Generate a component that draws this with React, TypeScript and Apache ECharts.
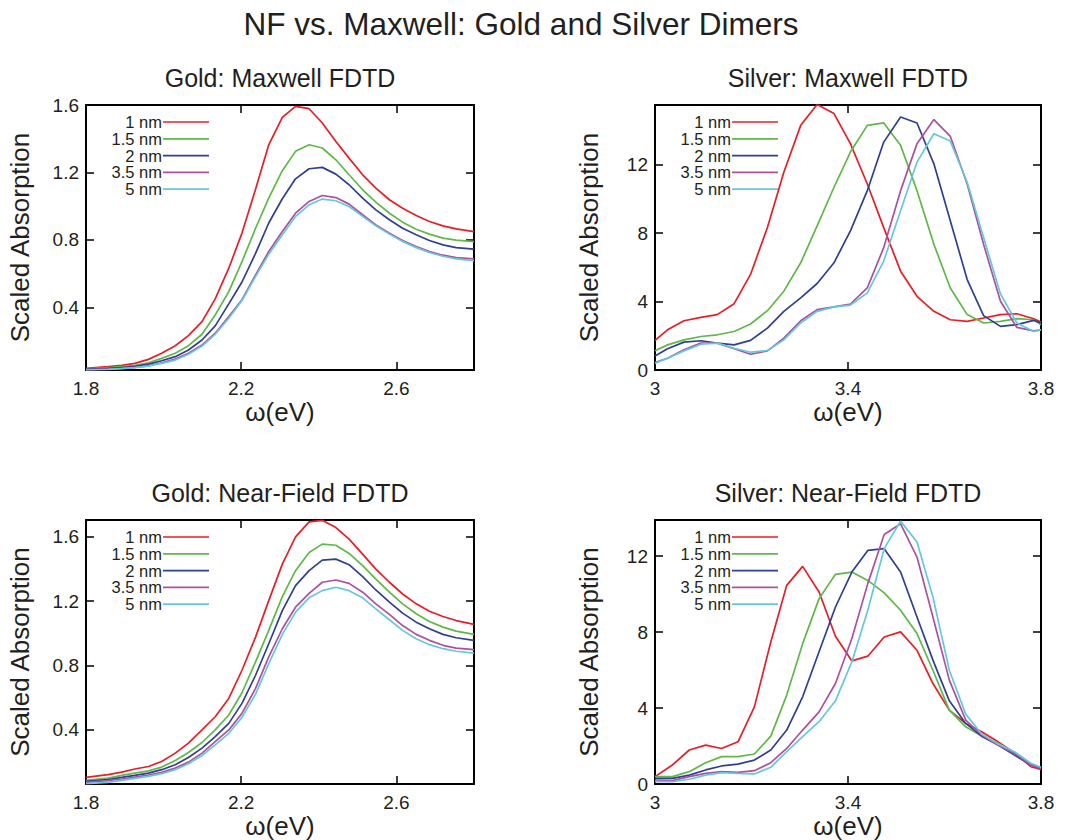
import React, { useEffect, useRef } from "react";
import * as echarts from "echarts";

const SIZES = ["1 nm", "1.5 nm", "2 nm", "3.5 nm", "5 nm"];
const COLORS = ["#ec1c24", "#5eb947", "#2e3f94", "#b04ea0", "#62c8e0"];

const goldXTicks = [1.8, 2.2, 2.6];
const goldMaxYTicks = [0.4, 0.8, 1.2, 1.6];
const goldNFYTicks = [0.4, 0.8, 1.2, 1.6];
const silverXTicks = [3, 3.4, 3.8];
const silverYTicks = [0, 4, 8, 12];

const goldX = [1.8, 1.857, 1.892, 1.926, 1.961, 1.995, 2.03, 2.064, 2.099, 2.133, 2.168, 2.202, 2.237, 2.271, 2.306, 2.34, 2.375, 2.409, 2.444, 2.478, 2.513, 2.547, 2.582, 2.616, 2.651, 2.685, 2.72, 2.754, 2.8];

const goldMax1 = [0.038, 0.048, 0.055, 0.067, 0.091, 0.127, 0.172, 0.232, 0.315, 0.45, 0.632, 0.84, 1.1, 1.364, 1.527, 1.592, 1.578, 1.493, 1.384, 1.285, 1.186, 1.107, 1.038, 0.988, 0.945, 0.909, 0.883, 0.865, 0.849];
const goldMax15 = [0.034, 0.042, 0.048, 0.055, 0.071, 0.097, 0.127, 0.172, 0.24, 0.354, 0.493, 0.671, 0.869, 1.048, 1.21, 1.325, 1.364, 1.345, 1.275, 1.186, 1.097, 1.024, 0.958, 0.905, 0.863, 0.834, 0.81, 0.798, 0.79];
const goldMax2 = [0.032, 0.038, 0.042, 0.05, 0.063, 0.083, 0.107, 0.147, 0.206, 0.29, 0.42, 0.55, 0.72, 0.9, 1.044, 1.162, 1.222, 1.23, 1.19, 1.127, 1.048, 0.978, 0.919, 0.869, 0.83, 0.796, 0.77, 0.754, 0.745];
const goldMax35 = [0.03, 0.034, 0.038, 0.044, 0.053, 0.071, 0.093, 0.127, 0.176, 0.246, 0.345, 0.445, 0.592, 0.731, 0.85, 0.958, 1.028, 1.063, 1.051, 1.012, 0.949, 0.889, 0.84, 0.796, 0.76, 0.731, 0.709, 0.695, 0.687];
const goldMax5 = [0.028, 0.032, 0.036, 0.042, 0.051, 0.067, 0.087, 0.121, 0.17, 0.24, 0.335, 0.44, 0.582, 0.715, 0.83, 0.939, 1.008, 1.042, 1.032, 0.998, 0.939, 0.883, 0.834, 0.79, 0.754, 0.725, 0.703, 0.687, 0.677];

const goldNF1 = [0.105, 0.122, 0.138, 0.157, 0.173, 0.204, 0.256, 0.318, 0.4, 0.482, 0.596, 0.771, 0.977, 1.204, 1.431, 1.6, 1.693, 1.703, 1.658, 1.586, 1.493, 1.4, 1.318, 1.245, 1.184, 1.138, 1.105, 1.08, 1.056];
const goldNF15 = [0.087, 0.101, 0.118, 0.132, 0.146, 0.169, 0.21, 0.26, 0.322, 0.4, 0.493, 0.631, 0.823, 1.019, 1.229, 1.39, 1.503, 1.555, 1.548, 1.497, 1.421, 1.338, 1.256, 1.184, 1.122, 1.074, 1.039, 1.014, 0.994];
const goldNF2 = [0.08, 0.092, 0.105, 0.118, 0.132, 0.153, 0.184, 0.229, 0.287, 0.359, 0.441, 0.565, 0.74, 0.936, 1.142, 1.297, 1.39, 1.456, 1.462, 1.427, 1.353, 1.27, 1.194, 1.126, 1.07, 1.029, 0.994, 0.973, 0.957];
const goldNF35 = [0.074, 0.085, 0.095, 0.107, 0.12, 0.136, 0.163, 0.2, 0.256, 0.328, 0.4, 0.503, 0.658, 0.854, 1.029, 1.163, 1.249, 1.318, 1.332, 1.311, 1.256, 1.184, 1.118, 1.049, 0.994, 0.957, 0.926, 0.909, 0.899];
const goldNF5 = [0.066, 0.074, 0.087, 0.099, 0.111, 0.128, 0.153, 0.19, 0.241, 0.307, 0.379, 0.478, 0.623, 0.812, 0.994, 1.132, 1.221, 1.266, 1.287, 1.266, 1.221, 1.153, 1.085, 1.019, 0.967, 0.93, 0.905, 0.889, 0.878];

const silverMaxX = [3.0, 3.026, 3.06, 3.095, 3.129, 3.164, 3.198, 3.233, 3.267, 3.302, 3.336, 3.371, 3.405, 3.44, 3.474, 3.509, 3.543, 3.578, 3.612, 3.647, 3.681, 3.716, 3.75, 3.785, 3.8];

const silverMax1 = [1.73, 2.35, 2.88, 3.08, 3.24, 3.88, 5.59, 8.33, 11.57, 14.31, 15.53, 15.0, 13.24, 10.88, 8.33, 5.78, 4.31, 3.43, 2.94, 2.84, 3.04, 3.24, 3.29, 3.0, 2.8];
const silverMax15 = [1.12, 1.47, 1.76, 1.96, 2.06, 2.25, 2.69, 3.47, 4.61, 6.27, 8.43, 10.69, 12.75, 14.31, 14.45, 13.14, 10.49, 7.35, 4.8, 3.24, 2.75, 2.84, 3.0, 2.94, 2.65];
const silverMax2 = [0.82, 1.24, 1.63, 1.71, 1.57, 1.47, 1.73, 2.45, 3.43, 4.22, 5.06, 6.27, 8.14, 10.49, 13.33, 14.8, 14.45, 12.06, 8.73, 5.29, 3.18, 2.55, 2.65, 2.9, 2.75];
const silverMax35 = [0.43, 0.69, 1.18, 1.57, 1.57, 1.24, 0.92, 1.12, 1.86, 2.88, 3.53, 3.69, 3.86, 4.8, 7.16, 10.49, 13.24, 14.65, 13.67, 10.88, 7.35, 4.02, 2.49, 2.29, 2.35];
const silverMax5 = [0.39, 0.69, 1.12, 1.51, 1.57, 1.27, 1.04, 1.14, 1.76, 2.75, 3.43, 3.69, 3.8, 4.51, 6.37, 9.31, 12.16, 13.82, 13.39, 10.98, 7.75, 4.45, 2.75, 2.25, 2.35];

const silverNFX = [3.0, 3.036, 3.071, 3.105, 3.138, 3.172, 3.206, 3.24, 3.273, 3.306, 3.34, 3.374, 3.408, 3.441, 3.475, 3.509, 3.543, 3.576, 3.61, 3.644, 3.677, 3.711, 3.745, 3.779, 3.8];

const silverNF1 = [0.39, 1.0, 1.79, 2.05, 1.87, 2.22, 4.06, 7.48, 10.46, 11.46, 10.11, 7.78, 6.48, 6.73, 7.74, 8.01, 7.04, 5.29, 3.89, 3.19, 2.75, 2.22, 1.65, 0.91, 0.77];
const silverNF15 = [0.39, 0.39, 0.65, 1.12, 1.44, 1.44, 1.58, 2.52, 4.68, 7.39, 9.76, 11.04, 11.16, 10.72, 10.06, 9.15, 7.92, 5.99, 3.89, 3.01, 2.52, 2.14, 1.65, 1.05, 0.82];
const silverNF2 = [0.3, 0.3, 0.47, 0.74, 0.95, 1.05, 1.26, 1.79, 2.84, 4.59, 6.96, 9.32, 11.16, 12.3, 12.39, 11.16, 8.79, 6.52, 4.38, 3.19, 2.52, 2.05, 1.52, 1.0, 0.82];
const silverNF35 = [0.21, 0.18, 0.39, 0.56, 0.65, 0.61, 0.7, 1.12, 1.87, 2.84, 3.8, 5.29, 7.66, 10.55, 13.14, 13.7, 11.95, 8.79, 5.47, 3.36, 2.58, 2.05, 1.61, 1.0, 0.82];
const silverNF5 = [0.12, 0.12, 0.25, 0.47, 0.6, 0.56, 0.53, 0.88, 1.7, 2.49, 3.28, 4.38, 6.43, 9.15, 12.39, 13.84, 12.74, 9.85, 5.99, 3.68, 2.63, 2.1, 1.7, 1.09, 0.88];

const FONT = "'Liberation Sans', Arial, Helvetica, sans-serif";
const TXT = "#231f20";

const panels = [
  { title: "Gold: Maxwell FDTD", left: 86, top: 105, width: 388, height: 265, xMin: 1.8, xMax: 2.8, xTicks: goldXTicks, yMin: 0.028, yMax: 1.6, yTicks: goldMaxYTicks, x: goldX, ys: [goldMax1, goldMax15, goldMax2, goldMax35, goldMax5], titleY: 78, yDigits: 1 },
  { title: "Silver: Maxwell FDTD", left: 655, top: 105, width: 386, height: 265, xMin: 3, xMax: 3.8, xTicks: silverXTicks, yMin: 0, yMax: 15.5, yTicks: silverYTicks, x: silverMaxX, ys: [silverMax1, silverMax15, silverMax2, silverMax35, silverMax5], titleY: 78, yDigits: 0 },
  { title: "Gold: Near-Field FDTD", left: 86, top: 520, width: 388, height: 264, xMin: 1.8, xMax: 2.8, xTicks: goldXTicks, yMin: 0.064, yMax: 1.705, yTicks: goldNFYTicks, x: goldX, ys: [goldNF1, goldNF15, goldNF2, goldNF35, goldNF5], titleY: 493, yDigits: 1 },
  { title: "Silver: Near-Field FDTD", left: 655, top: 520, width: 386, height: 264, xMin: 3, xMax: 3.8, xTicks: silverXTicks, yMin: 0, yMax: 13.9, yTicks: silverYTicks, x: silverNFX, ys: [silverNF1, silverNF15, silverNF2, silverNF35, silverNF5], titleY: 493, yDigits: 0 },
];

function fmt(v: number) {
  return String(+(+v).toFixed(1));
}

function buildOption() {
  const grid: any[] = [];
  const xAxis: any[] = [];
  const yAxis: any[] = [];
  const series: any[] = [];
  const graphic: any[] = [];
  const axisLine = { show: true, onZero: false, lineStyle: { color: "#000", width: 2 } };
  const tickStyle = { color: "#000", width: 1.5 };

  panels.forEach((p) => {
    grid.push({ left: p.left, top: p.top, width: p.width, height: p.height, containLabel: false });
  });
  panels.forEach((p, i) => {
    xAxis.push({
      type: "value", gridIndex: i, position: "bottom", min: p.xMin, max: p.xMax,
      axisLine, splitLine: { show: false },
      axisTick: { show: true, inside: true, length: 8, lineStyle: tickStyle, customValues: p.xTicks },
      axisLabel: { show: true, customValues: p.xTicks, formatter: fmt, fontSize: 19, color: TXT, margin: 9, fontFamily: FONT },
      name: "ω(eV)", nameLocation: "middle", nameGap: 25,
      nameTextStyle: { fontSize: 26, color: TXT, fontFamily: FONT, verticalAlign: "top" },
    });
  });
  panels.forEach((p, i) => {
    xAxis.push({
      type: "value", gridIndex: i, position: "top", min: p.xMin, max: p.xMax,
      axisLine, splitLine: { show: false },
      axisTick: { show: true, inside: true, length: 8, lineStyle: tickStyle, customValues: p.xTicks },
      axisLabel: { show: false },
    });
  });
  panels.forEach((p, i) => {
    yAxis.push({
      type: "value", gridIndex: i, position: "left", min: p.yMin, max: p.yMax,
      axisLine, splitLine: { show: false },
      axisTick: { show: true, inside: true, length: 8, lineStyle: tickStyle, customValues: p.yTicks },
      axisLabel: {
        show: true, customValues: p.yTicks, fontSize: 19, color: TXT, margin: 7, fontFamily: FONT,
        formatter: (v: number) => (+v).toFixed(p.yDigits),
      },
      name: "Scaled Absorption", nameLocation: "middle", nameGap: 53, nameRotate: 90,
      nameTextStyle: { fontSize: 26, color: TXT, fontFamily: FONT },
    });
  });
  panels.forEach((p, i) => {
    yAxis.push({
      type: "value", gridIndex: i, position: "right", min: p.yMin, max: p.yMax,
      axisLine, splitLine: { show: false },
      axisTick: { show: true, inside: true, length: 8, lineStyle: tickStyle, customValues: p.yTicks },
      axisLabel: { show: false },
    });
  });

  panels.forEach((p, i) => {
    p.ys.forEach((ys, s) => {
      series.push({
        type: "line", name: SIZES[s], xAxisIndex: i, yAxisIndex: i,
        data: p.x.map((xv, k) => [xv, ys[k]]),
        showSymbol: false, symbol: "none", clip: true, silent: true,
        lineStyle: { color: COLORS[s], width: 1.7 },
        itemStyle: { color: COLORS[s] },
      });
    });
    graphic.push({
      type: "text", x: p.left + p.width / 2, y: p.titleY,
      style: { text: p.title, fontSize: 25, fill: TXT, fontFamily: FONT, align: "center", verticalAlign: "middle" },
    });
    SIZES.forEach((name, s) => {
      const y = p.top + 17 + s * 16.8;
      graphic.push({
        type: "text", x: p.left + 76, y,
        style: { text: name, fontSize: 16.5, lineHeight: 16, fill: TXT, fontFamily: FONT, align: "right", verticalAlign: "middle" },
      });
      graphic.push({
        type: "line", shape: { x1: p.left + 77, y1: y, x2: p.left + 123, y2: y },
        style: { stroke: COLORS[s], lineWidth: 1.7 },
      });
    });
  });

  graphic.push({
    type: "text", x: 521, y: 24,
    style: { text: "NF vs. Maxwell: Gold and Silver Dimers", fontSize: 31.5, fill: TXT, fontFamily: FONT, align: "center", verticalAlign: "middle" },
  });

  return {
    animation: false,
    backgroundColor: "#ffffff",
    textStyle: { fontFamily: FONT },
    grid, xAxis, yAxis, series, graphic,
  };
}

export default function App() {
  const ref = useRef<HTMLDivElement>(null);
  useEffect(() => {
    if (!ref.current) return;
    const chart = echarts.init(ref.current, undefined, { renderer: "svg" });
    chart.setOption(buildOption() as any);
    return () => chart.dispose();
  }, []);
  return (
    <div
      ref={ref}
      style={{ position: "absolute", left: 0, top: 0, width: 1066, height: 840, background: "#fff" }}
    />
  );
}
